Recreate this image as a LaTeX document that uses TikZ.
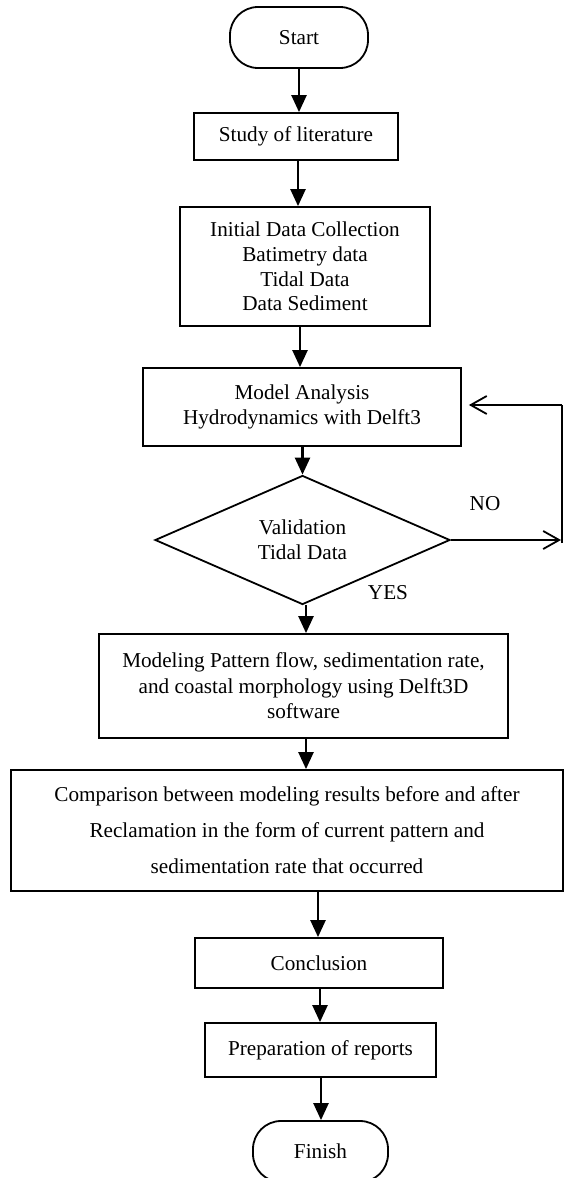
\documentclass[tikz,border=0pt]{standalone}
\usepackage{fontspec}
\setmainfont{Liberation Serif}
\usetikzlibrary{arrows.meta,shapes.geometric}
\begin{document}
\begin{tikzpicture}[x=0.5pt,y=-0.5pt,
  every node/.style={font=\fontsize{10.6}{12.4}\selectfont},
  stepbox/.style={draw,line width=0.9pt,rectangle,inner sep=0pt,align=center},
  term/.style={draw,line width=0.9pt,rectangle,rounded corners=14pt,inner sep=0pt,align=center},
  decision/.style={draw,line width=0.9pt,diamond,inner sep=0pt,align=center},
  arr/.style={line width=1.2pt,-{Triangle[length=8.5pt,width=7.5pt]}},
  fb/.style={line width=0.75pt},
  fbarr/.style={line width=0.75pt,-{Straight Barb[length=8pt,width=9pt,line width=0.9pt]}},
  lbl/.style={inner sep=0pt}]
\useasboundingbox (0,0) rectangle (564,1178);
\fill[white] (0,0) rectangle (564,1178);

\node[term,minimum width=69pt,minimum height=30.5pt] (start) at (299,37.5) {Start};
\node[stepbox,minimum width=102pt,minimum height=23.5pt] (study) at (296,136.5) {Study of literature};
\node[stepbox,minimum width=125pt,minimum height=59.5pt] (init) at (305,266.5) {Initial Data Collection\\Batimetry data\\Tidal Data\\Data Sediment};
\node[stepbox,minimum width=159pt,minimum height=39pt] (model) at (302,407) {Model Analysis\\Hydrodynamics with Delft3};
\node[decision,minimum width=147.5pt,minimum height=58pt] (dia) at (302.5,540) {Validation\\Tidal Data};
\node[stepbox,minimum width=204.5pt,minimum height=52pt] (modeling) at (303.5,686) {\raisebox{-6pt}{\parbox{200pt}{\centering\fontsize{10.6}{12.8}\selectfont Modeling Pattern flow, sedimentation rate,\\and coastal morphology using Delft3D\\software}}};
\node[stepbox,minimum width=276pt,minimum height=60.5pt,font=\fontsize{10.6}{18}\selectfont] (comp) at (287,830.5) {Comparison between modeling results before and after\\Reclamation in the form of current pattern and\\sedimentation rate that occurred};
\node[stepbox,minimum width=124pt,minimum height=25pt] (concl) at (319,963) {Conclusion};
\node[stepbox,minimum width=115.5pt,minimum height=27pt] (prep) at (320.5,1050) {Preparation of reports};
\node[term,minimum width=67.5pt,minimum height=30.5pt] (finish) at (320.5,1151.5) {Finish};

\node[lbl] (no) at (485,504) {NO};
\node[lbl] (yes) at (388,593) {YES};

\draw[arr] (start.south) -- (start.south |- study.north);
\draw[arr] (study.south -| 298,0) -- (init.north -| 298,0);
\draw[arr] (init.south -| 300,0) -- (model.north -| 300,0);
\draw[arr] (model.south -| dia.north) -- (dia.north);
\draw[arr] (dia.south -| 306,0) -- (modeling.north -| 306,0);
\draw[arr] (modeling.south -| 306,0) -- (comp.north -| 306,0);
\draw[arr] (comp.south -| 318,0) -- (concl.north -| 318,0);
\draw[arr] (concl.south -| 320,0) -- (prep.north -| 320,0);
\draw[arr] (prep.south -| 321,0) -- (finish.north -| 321,0);

\coordinate (c1) at (561,540);
\coordinate (c2) at (562,405);
\draw[fbarr] (dia.east) -- (c1);
\draw[fb] (562,543) -- (c2);
\draw[fbarr,shorten >=3.5pt] (c2) -- (c2 -| model.east);
\end{tikzpicture}
\end{document}
